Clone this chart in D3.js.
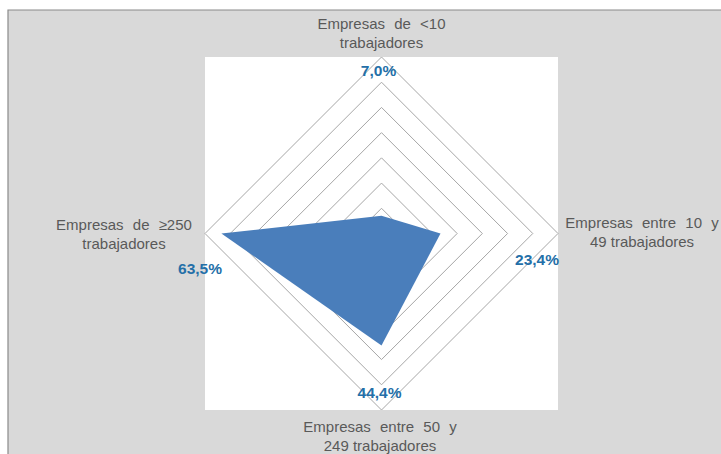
<!DOCTYPE html>
<html>
<head>
<meta charset="utf-8">
<script src="https://cdn.jsdelivr.net/npm/d3@7"></script>
<style>
  html, body { margin: 0; padding: 0; background: #ffffff; }
  svg { display: block; }
</style>
</head>
<body>
<svg id="chart" width="721" height="454"></svg>
<script>
// Share of companies by size band
const categories = [
  ["Empresas de <10", "trabajadores"],
  ["Empresas entre 10 y", "49 trabajadores"],
  ["Empresas entre 50 y", "249 trabajadores"],
  ["Empresas de ≥250", "trabajadores"]
];
const values = [7.0, 23.4, 44.4, 63.5];
const valueLabels = ["7,0%", "23,4%", "44,4%", "63,5%"];
const gridLevels = [10, 20, 30, 40, 50, 60, 70];

const svg = d3.select("#chart");
const W = 721, H = 454;

// Outer frame: gray panel with a darker top/left rule
svg.append("rect").attr("x", 8).attr("y", 10).attr("width", W - 8).attr("height", H - 10)
  .attr("fill", "#d9d9d9");
svg.append("path").attr("d", `M8,${H} L8,10 L${W},10`)
  .attr("fill", "none").attr("stroke", "#8a8a8a").attr("stroke-width", 1.2);

// Plot area
const plot = { x: 205, y: 57, w: 353, h: 353 };
svg.append("rect").attr("x", plot.x).attr("y", plot.y)
  .attr("width", plot.w).attr("height", plot.h).attr("fill", "#ffffff");

const cx = plot.x + plot.w / 2, cy = plot.y + plot.h / 2;
const r = d3.scaleLinear().domain([0, 70]).range([0, plot.w / 2]);
const angle = i => (i * 2 * Math.PI) / categories.length;

const g = svg.append("g").attr("transform", `translate(${cx},${cy})`);

// Concentric diamond grid
const radial = d3.lineRadial().curve(d3.curveLinearClosed);
g.selectAll("path.grid").data(gridLevels).join("path")
  .attr("class", "grid")
  .attr("d", lv => radial(categories.map((c, i) => [angle(i), r(lv)])))
  .attr("fill", "none")
  .attr("stroke", "#a6a6a6")
  .attr("stroke-width", 1);

// Data polygon
g.append("path")
  .attr("d", radial(values.map((v, i) => [angle(i), r(v)])))
  .attr("fill", "#4a7ebb")
  .attr("stroke", "none");

// Value labels
const valuePos = [
  { x: -3, y: 76 - cy, anchor: "middle" },
  { x: 537 - cx, y: 265 - cy, anchor: "middle" },
  { x: -2, y: 398 - cy, anchor: "middle" },
  { x: 200 - cx, y: 274 - cy, anchor: "middle" }
];
g.selectAll("text.val").data(valueLabels).join("text")
  .attr("class", "val")
  .attr("x", (d, i) => valuePos[i].x)
  .attr("y", (d, i) => valuePos[i].y)
  .attr("text-anchor", (d, i) => valuePos[i].anchor)
  .attr("font-family", "Liberation Sans, Arial, sans-serif")
  .attr("font-weight", "bold")
  .attr("font-size", "15.5px")
  .attr("fill", "#246fa8")
  .text(d => d);

// Category labels (first line is spread wider, as in justified text)
const catPos = [
  { x: 381.5, y: 29 },
  { x: 642, y: 228 },
  { x: 380, y: 432 },
  { x: 124, y: 230 }
];
categories.forEach((lines, i) => {
  const t = svg.append("text")
    .attr("x", catPos[i].x).attr("y", catPos[i].y)
    .attr("text-anchor", "middle")
    .attr("font-family", "Liberation Sans, Arial, sans-serif")
    .attr("font-size", "15px")
    .attr("fill", "#595959");
  lines.forEach((line, k) => {
    t.append("tspan").attr("x", catPos[i].x)
      .attr("dy", k === 0 ? 0 : 18.5)
      .attr("word-spacing", k === 0 ? "5px" : "0px")
      .text(line);
  });
});
</script>
</body>
</html>
